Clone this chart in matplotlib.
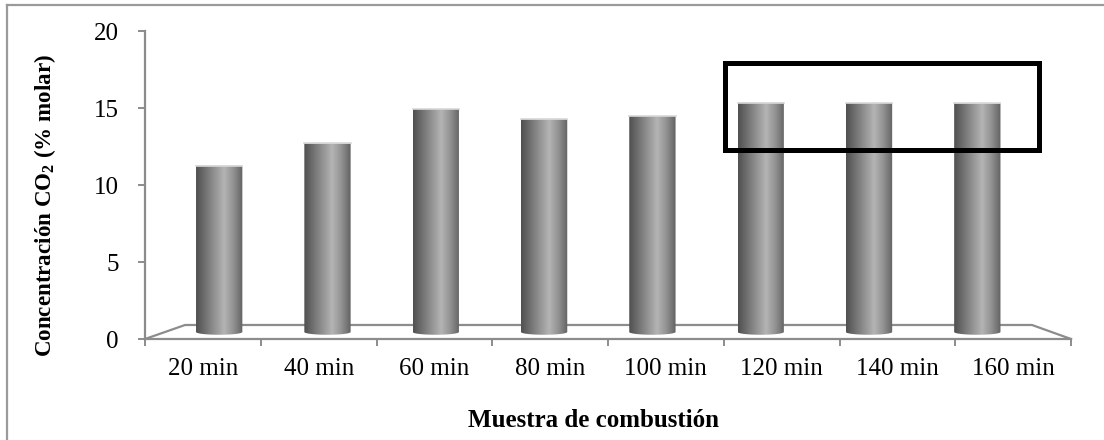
import matplotlib.pyplot as plt
import numpy as np
from matplotlib.colors import LinearSegmentedColormap
from matplotlib.patches import Polygon, Rectangle
from matplotlib.lines import Line2D

plt.rcParams['font.family'] = ['Liberation Serif', 'DejaVu Serif']
plt.rcParams['mathtext.fontset'] = 'custom'
plt.rcParams['mathtext.rm'] = 'Liberation Serif'
plt.rcParams['mathtext.bf'] = 'Liberation Serif:bold'

# muestras y concentracion de CO2 (% molar)
muestras = ['20 min', '40 min', '60 min', '80 min', '100 min', '120 min', '140 min', '160 min']
co2 = [11.25, 12.7, 14.95, 14.27, 14.48, 15.34, 15.32, 15.3]
y_ticks = [0, 5, 10, 15, 20]

fig = plt.figure(figsize=(11.04, 4.4), dpi=100)
ax = fig.add_axes([145 / 1104, 101 / 440, 926 / 1104, 308 / 440])
ax.set_xlim(0, 8)
ax.set_ylim(0, 20)

gris = '#8c8c8c'
for s in ['top', 'right']:
    ax.spines[s].set_visible(False)
for s in ['left', 'bottom']:
    ax.spines[s].set_color(gris)
    ax.spines[s].set_linewidth(1.6)

ax.set_yticks(y_ticks)
ax.set_xticks(np.arange(0, 9))
ax.set_xticklabels([])
ax.set_xticks(np.arange(len(muestras)) + 0.5, minor=True)
ax.set_xticklabels(muestras, minor=True)
ax.tick_params(axis='x', which='major', direction='out', length=5, width=1.4, color=gris)
ax.tick_params(axis='x', which='minor', length=0, labelsize=18, pad=14)
ax.tick_params(axis='y', direction='out', length=5, width=1.4, color=gris, labelsize=18, pad=14)

# suelo 3D
fondo_y = 0.91
fondo_x0, fondo_x1 = 0.346, 7.663
ax.add_line(Line2D([0, fondo_x0, fondo_x1, 8], [0, fondo_y, fondo_y, 0],
                   color=gris, lw=1.6, zorder=1, clip_on=False))

# columnas cilindricas con degradado
cmap = LinearSegmentedColormap.from_list('cil', [
    (0.0, '#505050'), (0.25, '#7a7a7a'), (0.6, '#b4b4b4'),
    (0.8, '#929292'), (1.0, '#626262')])
grad = np.linspace(0, 1, 200).reshape(1, -1)
mid_y = fondo_y / 2
x_ini = fondo_x0 / 2
paso = (8 - fondo_x0 / 2 - (8 - fondo_x1) / 2 - x_ini) / 8
ancho = 0.40
eh = 0.18
for i, v in enumerate(co2):
    xc = x_ini + (i + 0.5) * paso
    x0, x1 = xc - ancho / 2, xc + ancho / 2
    t = np.linspace(0, np.pi, 40)
    ex = xc + (ancho / 2) * np.cos(t)
    ey = mid_y - eh * np.sin(t)
    pts = [(x0, v), (x1, v)] + list(zip(ex, ey)) + [(x0, v)]
    poly = Polygon(pts, closed=True, facecolor='none', edgecolor='none', zorder=3)
    ax.add_patch(poly)
    im = ax.imshow(grad, cmap=cmap, aspect='auto', extent=[x0, x1, mid_y - eh, v],
                   zorder=3, interpolation='bilinear')
    im.set_clip_path(poly)
    ax.add_line(Line2D([x0, x1], [v, v], color='#d8d8d8', lw=1.2, zorder=4))

ax.set_xlim(0, 8)
ax.set_ylim(0, 20)

# recuadro
ax.add_patch(Rectangle((5.007, 12.25), 7.72 - 5.007, 17.92 - 12.25, fill=False,
                       edgecolor='black', lw=3.6, zorder=5, clip_on=False))

fig.text(593 / 1104, 1 - 420 / 440, 'Muestra de combustión', fontsize=18,
         fontweight='bold', ha='center', va='center')
fig.text(45 / 1104, 1 - 205 / 440, r'Concentración CO$_\mathbf{2}$ (% molar)',
         fontsize=16.6, fontweight='bold', rotation=90, ha='center', va='center')

# marco exterior
fig.add_artist(Line2D([7 / 1104, 1.01], [1 - 5.5 / 440, 1 - 5.5 / 440],
                      color='#9a9a9a', lw=1.6))
fig.add_artist(Line2D([7 / 1104, 7 / 1104], [-0.01, 1 - 5.5 / 440],
                      color='#9a9a9a', lw=1.6))

fig.savefig('out.png', dpi=100)
